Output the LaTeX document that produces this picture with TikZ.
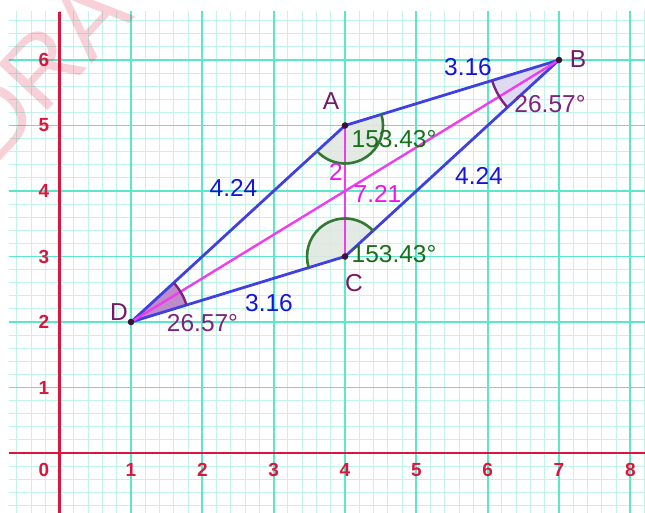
\documentclass[tikz,border=0pt]{standalone}
\usepackage{fontspec}
\setmainfont{Liberation Sans}
\definecolor{gminor}{RGB}{192,246,234}
\definecolor{gmajor}{RGB}{90,232,200}
\definecolor{axred}{RGB}{218,22,62}
\definecolor{sideblue}{RGB}{64,64,226}
\definecolor{txtblue}{RGB}{20,20,220}
\definecolor{diagmag}{RGB}{240,60,240}
\definecolor{txtmag}{RGB}{236,20,236}
\definecolor{angreen}{RGB}{50,120,50}
\definecolor{txtgreen}{RGB}{25,110,25}
\definecolor{greenfill}{RGB}{224,231,224}
\definecolor{anpurple}{RGB}{125,35,125}
\definecolor{dfill}{RGB}{190,140,200}
\definecolor{bfill}{RGB}{222,218,242}
\definecolor{ptcol}{RGB}{115,25,105}
\definecolor{dotcol}{RGB}{55,20,55}
\begin{document}
\begin{tikzpicture}[x=71.33pt,y=65.5pt,
  minorline/.style={draw=gminor,line width=1pt},
  majorline/.style={draw=gmajor,line width=1.8pt},
  axisline/.style={draw=axred,line width=2.6pt},
  axlbl/.style={inner sep=0pt,font=\fontsize{19}{22}\selectfont\bfseries,text=axred},
  lbl/.style={inner sep=0pt,font=\fontsize{24.5}{28}\selectfont},
  side/.style={draw=sideblue,line width=2.8pt,line join=round},
  diag/.style={draw=diagmag,line width=2.4pt},
  greenarc/.style={draw=angreen,line width=2.6pt},
  purplearc/.style={draw=anpurple,line width=2.4pt},
  ptdot/.style={fill=dotcol}]
\useasboundingbox (-0.83696,-0.90076) rectangle (8.2055,6.91603);
% grid
\begin{scope}
  \clip (-0.7108,-0.91) rectangle (8.21,6.7328);
  \foreach \i in {-4,...,41} \draw[minorline] (\i/5,-1) -- (\i/5,7);
  \foreach \i in {-5,...,34} \draw[minorline] (-1,\i/5) -- (9,\i/5);
  \foreach \i in {0,...,8} \draw[majorline] (\i,-1) -- (\i,7);
  \foreach \i in {0,...,6} \draw[majorline] (-1,\i) -- (9,\i);
\end{scope}
% axes
\coordinate (xl) at (-0.7108,0);
\coordinate (xr) at (8.21,0);
\coordinate (yb) at (0,-0.91);
\coordinate (yt) at (0,6.7328);
\draw[axisline] (xl) -- (xr);
\draw[axisline] (yb) -- (yt);
\node[axlbl] (x0) at (-0.22,-0.255) {0};
\foreach \k in {1,...,8} \node[axlbl] (x\k) at (\k,-0.255) {\k};
\foreach \k in {1,...,6} \node[axlbl] (y\k) at (-0.22,\k) {\k};
% points
\coordinate (A) at (4,5);
\coordinate (B) at (7,6);
\coordinate (C) at (4,3);
\coordinate (D) at (1,2);
% angle sectors
\fill[greenfill,opacity=0.9] (A) -- ++(222.56:38pt) arc[start angle=222.56,end angle=377.02,radius=38pt] -- cycle;
\fill[greenfill,opacity=0.9] (C) -- ++(42.56:38pt) arc[start angle=42.56,end angle=197.02,radius=38pt] -- cycle;
\fill[bfill] (B) -- ++(197.02:70pt) arc[start angle=197.02,end angle=222.56,radius=70pt] -- cycle;
\fill[dfill] (D) -- ++(17.02:58pt) arc[start angle=17.02,end angle=42.56,radius=58pt] -- cycle;
% sides and diagonals
\draw[side] (D) -- (A) -- (B) -- (C) -- cycle;
\draw[diag] (D) -- (B);
\draw[diag] (A) -- (C);
% arcs
\draw[greenarc] (A) ++(222.56:38pt) arc[start angle=222.56,end angle=377.02,radius=38pt];
\draw[greenarc] (C) ++(42.56:38pt) arc[start angle=42.56,end angle=197.02,radius=38pt];
\draw[purplearc] (B) ++(197.02:70pt) arc[start angle=197.02,end angle=222.56,radius=70pt];
\draw[purplearc] (D) ++(17.02:58pt) arc[start angle=17.02,end angle=42.56,radius=58pt];
% dots
\foreach \p in {A,B,C,D} \fill[ptdot] (\p) circle[radius=3.3pt];
% labels
\node[lbl,text=ptcol] (lA) at (3.803,5.366) {A};
\node[lbl,text=ptcol] (lB) at (7.266,6.015) {B};
\node[lbl,text=ptcol] (lC) at (4.126,2.595) {C};
\node[lbl,text=ptcol] (lD) at (0.831,2.157) {D};
\node[lbl,text=txtgreen] (angA) at (4.687,4.794) {153.43°};
\node[lbl,text=txtgreen] (angC) at (4.687,3.038) {153.43°};
\node[lbl,text=anpurple] (angB) at (6.874,5.328) {26.57°};
\node[lbl,text=anpurple] (angD) at (2.002,1.985) {26.57°};
\node[lbl,text=txtmag] (lAC) at (3.874,4.298) {2};
\node[lbl,text=txtmag] (lDB) at (4.455,3.962) {7.21};
\node[lbl,text=txtblue] (lDA) at (2.437,4.046) {4.24};
\node[lbl,text=txtblue] (lBC) at (5.878,4.229) {4.24};
\node[lbl,text=txtblue] (lAB) at (5.724,5.898) {3.16};
\node[lbl,text=txtblue] (lCD) at (2.934,2.290) {3.16};
% watermark
\node[rotate=47,font=\fontsize{98}{100}\selectfont,text=axred,text opacity=0.2,inner sep=0pt] (wm) at (-0.27,5.86) {DRA};
\end{tikzpicture}
\end{document}
